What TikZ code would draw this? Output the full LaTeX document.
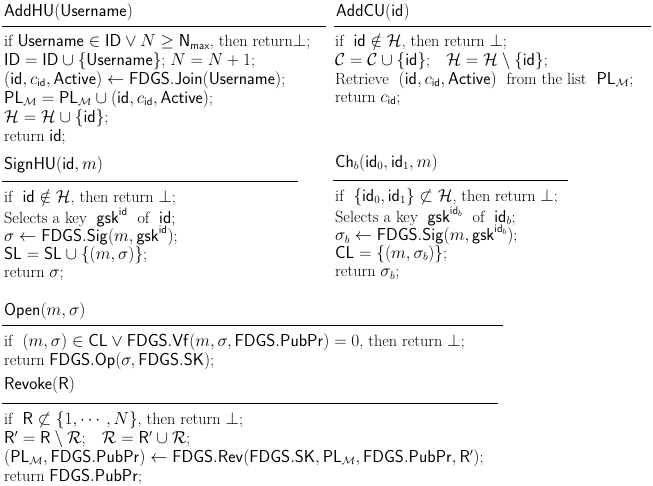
\documentclass[tikz,border=0pt]{standalone}
\usepackage{amsmath,amssymb}
\begin{document}
\newcommand{\sfx}[1]{\mathsf{#1}}
\begin{tikzpicture}[x=1pt,y=-1pt,
  ln/.style={anchor=west,inner sep=0pt,font=\fontsize{16.2}{19}\selectfont},
  rl/.style={line width=0.9pt}]
\useasboundingbox[fill=white] (0,0) rectangle (653,486);
% AddHU
\node[ln] (t1) at (4,12) {$\sfx{AddHU}(\sfx{Username})$};
\coordinate (r1a) at (2,26); \coordinate (r1b) at (326,26);
\draw[rl] (r1a) -- (r1b);
\node[ln] (a1) at (4,42) {if $\sfx{Username}\in\sfx{ID}\vee N\geq \sfx{N}_{\sfx{max}}$, then return$\perp$;};
\node[ln] (a2) at (4,61) {$\sfx{ID}=\sfx{ID}\cup\{\sfx{Username}\}$; $N=N+1$;};
\node[ln] (a3) at (4,80) {$(\sfx{id},c_{\sfx{id}},\sfx{Active})\leftarrow\sfx{FDGS.Join}(\sfx{Username})$;};
\node[ln] (a4) at (4,99) {$\sfx{PL}_{\mathcal{M}}=\sfx{PL}_{\mathcal{M}}\cup(\sfx{id},c_{\sfx{id}},\sfx{Active})$;};
\node[ln] (a5) at (4,118) {$\mathcal{H}=\mathcal{H}\cup\{\sfx{id}\}$;};
\node[ln] (a6) at (4,137) {return $\sfx{id}$;};
% AddCU
\node[ln] (t2) at (336,12) {$\sfx{AddCU}(\sfx{id})$};
\coordinate (r2a) at (334,26); \coordinate (r2b) at (651,26);
\draw[rl] (r2a) -- (r2b);
\node[ln] (b1) at (335,42) {if \ $\sfx{id}\notin\mathcal{H}$, then return $\perp$;};
\node[ln] (b2) at (335,61) {$\mathcal{C}=\mathcal{C}\cup\{\sfx{id}\}$;\quad $\mathcal{H}=\mathcal{H}\setminus\{\sfx{id}\}$;};
\node[ln] (b3) at (335,80) {Retrieve \ $(\sfx{id},c_{\sfx{id}},\sfx{Active})$ \ from the list \ $\sfx{PL}_{\mathcal{M}}$;};
\node[ln] (b4) at (335,99) {return $c_{\sfx{id}}$;};
% SignHU
\node[ln] (t3) at (4,165) {$\sfx{SignHU}(\sfx{id},m)$};
\coordinate (r3a) at (2,181); \coordinate (r3b) at (298,181);
\draw[rl] (r3a) -- (r3b);
\node[ln] (c1) at (4,198) {if \ $\sfx{id}\notin\mathcal{H}$, then return $\perp$;};
\node[ln] (c2) at (4,217) {Selects a key \ $\sfx{gsk}^{\sfx{id}}$ \ of \ $\sfx{id}$;};
\node[ln] (c3) at (4,236) {$\sigma\leftarrow\sfx{FDGS.Sig}(m,\sfx{gsk}^{\sfx{id}})$;};
\node[ln] (c4) at (4,255) {$\sfx{SL}=\sfx{SL}\cup\{(m,\sigma)\}$;};
\node[ln] (c5) at (4,274) {return $\sigma$;};
% Ch_b
\node[ln] (t4) at (335,163) {$\sfx{Ch}_b(\sfx{id}_0,\sfx{id}_1,m)$};
\coordinate (r4a) at (333,180); \coordinate (r4b) at (568,180);
\draw[rl] (r4a) -- (r4b);
\node[ln] (d1) at (335,197) {if \ $\{\sfx{id}_0,\sfx{id}_1\}\not\subset\mathcal{H}$, then return $\perp$;};
\node[ln] (d2) at (335,216) {Selects a key \ $\sfx{gsk}^{\sfx{id}_b}$ \ of \ $\sfx{id}_b$;};
\node[ln] (d3) at (335,235) {$\sigma_b\leftarrow\sfx{FDGS.Sig}(m,\sfx{gsk}^{\sfx{id}_b})$;};
\node[ln] (d4) at (335,254) {$\sfx{CL}=\{(m,\sigma_b)\}$;};
\node[ln] (d5) at (335,273) {return $\sigma_b$;};
% Open
\node[ln] (t5) at (4,311) {$\sfx{Open}(m,\sigma)$};
\coordinate (r5a) at (2,325); \coordinate (r5b) at (503,325);
\draw[rl] (r5a) -- (r5b);
\node[ln] (e1) at (4,342) {if \ $(m,\sigma)\in\sfx{CL}\vee\sfx{FDGS.Vf}(m,\sigma,\sfx{FDGS.PubPr})=0$, then return $\perp$;};
\node[ln] (e2) at (4,361) {return $\sfx{FDGS.Op}(\sigma,\sfx{FDGS.SK})$;};
% Revoke
\node[ln] (t6) at (4,385) {$\sfx{Revoke}(\sfx{R})$};
\coordinate (r6a) at (2,403); \coordinate (r6b) at (498,403);
\draw[rl] (r6a) -- (r6b);
\node[ln] (f1) at (4,420) {if \ $\sfx{R}\not\subset\{1,\cdots,N\}$, then return $\perp$;};
\node[ln] (f2) at (4,439) {$\sfx{R}'=\sfx{R}\setminus\mathcal{R}$;\quad $\mathcal{R}=\sfx{R}'\cup\mathcal{R}$;};
\node[ln] (f3) at (4,458) {$(\sfx{PL}_{\mathcal{M}},\sfx{FDGS.PubPr})\leftarrow\sfx{FDGS.Rev}(\sfx{FDGS.SK},\sfx{PL}_{\mathcal{M}},\sfx{FDGS.PubPr},\sfx{R}')$;};
\node[ln] (f4) at (4,477) {return $\sfx{FDGS.PubPr}$;};
\end{tikzpicture}
\end{document}
